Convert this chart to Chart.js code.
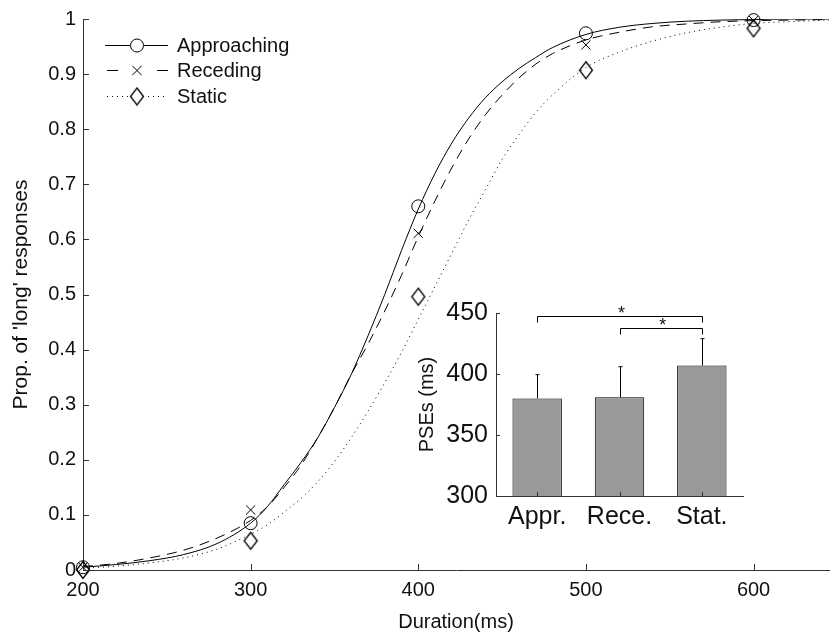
<!DOCTYPE html>
<html>
<head>
<meta charset="utf-8">
<script src="https://cdn.jsdelivr.net/npm/chart.js@4.4.1/dist/chart.umd.min.js"></script>
<style>
  html, body { margin: 0; padding: 0; background: #fff; }
  #wrap { position: relative; width: 830px; height: 634px; }
  #main { position: absolute; left: 0; top: 0; }
  #inset { position: absolute; left: 400px; top: 290px; }
</style>
</head>
<body>
<div id="wrap">
  <canvas id="main" width="830" height="634"></canvas>
  <canvas id="inset" width="350" height="240"></canvas>
</div>
<script>
// observed proportions of 'long' responses
const durations = [200, 300, 400, 500, 600];
const approachingObs = [0.005, 0.085, 0.66, 0.974, 0.998];
const recedingObs = [0.005, 0.109, 0.611, 0.953, 0.997];
const staticObs = [0.0, 0.053, 0.496, 0.907, 0.983];

// fitted curves
const fitX = [200, 220, 240, 260, 280, 300, 310, 320, 330, 340, 350, 360, 370, 380, 390, 400,
              410, 420, 430, 440, 450, 460, 470, 480, 500, 520, 540, 560, 580, 600, 620, 645];
const approachingFit = [0.005, 0.010, 0.017, 0.028, 0.048, 0.085, 0.115, 0.155, 0.195, 0.24, 0.295,
                        0.355, 0.425, 0.5, 0.58, 0.655, 0.72, 0.775, 0.82, 0.857, 0.886, 0.91, 0.93,
                        0.948, 0.972, 0.985, 0.992, 0.996, 0.998, 0.999, 1.0, 1.0];
const recedingFit = [0.006, 0.012, 0.022, 0.036, 0.058, 0.09, 0.115, 0.15, 0.19, 0.24, 0.295,
                     0.355, 0.41, 0.47, 0.535, 0.605, 0.67, 0.73, 0.782, 0.826, 0.862, 0.893, 0.918,
                     0.937, 0.962, 0.976, 0.986, 0.991, 0.995, 0.997, 0.998, 0.999];
const staticFit = [0.003, 0.007, 0.013, 0.022, 0.038, 0.065, 0.082, 0.105, 0.13, 0.16, 0.197,
                   0.24, 0.288, 0.34, 0.395, 0.455, 0.515, 0.575, 0.635, 0.69, 0.745, 0.79, 0.83,
                   0.862, 0.912, 0.94, 0.96, 0.975, 0.985, 0.992, 0.995, 0.998];

// inset: PSEs per condition
const pseLabels = ['Appr.', 'Rece.', 'Stat.'];
const pseValues = [380, 381, 407];
const pseErrors = [19.5, 25, 22];
const sigPairs = [[0, 2, 447.5], [1, 2, 437.5]];

const FONT = '"Liberation Sans", Arial, Helvetica, sans-serif';
const INK = '#111';
const AXIS = '#333';

// diamond marker (taller than wide, like the original)
const diamond = document.createElement('canvas');
diamond.width = 16;
diamond.height = 20;
(function () {
    const c = diamond.getContext('2d');
    c.strokeStyle = '#000';
    c.lineWidth = 1.3;
    c.beginPath();
    c.moveTo(8, 1.5);
    c.lineTo(14.5, 10);
    c.lineTo(8, 18.5);
    c.lineTo(1.5, 10);
    c.closePath();
    c.stroke();
})();

function pairs(xs, ys) {
    return xs.map((x, i) => ({ x: x, y: ys[i] }));
}

function curve(label, ys, dash) {
    return {
        label: label,
        data: pairs(fitX, ys),
        borderColor: '#000',
        borderWidth: 1,
        borderDash: dash,
        pointRadius: 0,
        fill: false,
        cubicInterpolationMode: 'monotone'
    };
}

function markers(ys, style, radius) {
    return {
        data: pairs(durations, ys),
        showLine: false,
        pointStyle: style,
        pointRadius: radius,
        pointBorderColor: '#000',
        pointBackgroundColor: 'rgba(0,0,0,0)',
        pointBorderWidth: 1,
        clip: false
    };
}

const legendItems = [
    { text: 'Approaching', dash: [], style: 'circle', radius: 6.5, y: 45, segs: [[105, 130], [144, 168]] },
    { text: 'Receding', dash: [], style: 'crossRot', radius: 6.5, y: 70, segs: [[107, 118], [157, 168]] },
    { text: 'Static', dash: [1, 4], style: diamond, radius: 1, y: 96, segs: [[107, 129], [148, 168]] }
];

// MATLAB style ticks pointing into the plot
const inwardTicks = {
    id: 'inwardTicks',
    afterDraw(chart) {
        const ctx = chart.ctx;
        const a = chart.chartArea;
        const len = chart.canvas.id === 'main' ? 6 : 4;
        ctx.save();
        ctx.strokeStyle = AXIS;
        ctx.lineWidth = 1;
        ctx.beginPath();
        const xs = chart.scales.x;
        xs.ticks.forEach((t, i) => {
            const px = Math.round(xs.getPixelForTick(i)) + 0.5;
            ctx.moveTo(px, a.bottom);
            ctx.lineTo(px, a.bottom - len);
        });
        const ys = chart.scales.y;
        ys.ticks.forEach((t, i) => {
            const py = Math.round(ys.getPixelForTick(i)) + 0.5;
            ctx.moveTo(a.left, py);
            ctx.lineTo(a.left + len, py);
        });
        ctx.stroke();
        ctx.restore();
    }
};

const legendBox = {
    id: 'legendBox',
    afterDraw(chart) {
        const ctx = chart.ctx;
        ctx.save();
        legendItems.forEach(item => {
            ctx.strokeStyle = '#000';
            ctx.lineWidth = 1;
            ctx.setLineDash(item.dash);
            ctx.beginPath();
            item.segs.forEach(s => {
                ctx.moveTo(s[0], item.y + 0.5);
                ctx.lineTo(s[1], item.y + 0.5);
            });
            ctx.stroke();
            ctx.setLineDash([]);
            ctx.fillStyle = 'rgba(0,0,0,0)';
            Chart.helpers.drawPoint(ctx, { pointStyle: item.style, radius: item.radius, rotation: 0, borderWidth: 1 }, 137, item.y + 0.5);
            ctx.fillStyle = INK;
            ctx.font = '20px ' + FONT;
            ctx.textBaseline = 'middle';
            ctx.textAlign = 'left';
            ctx.fillText(item.text, 177, item.y + 1);
        });
        ctx.restore();
    }
};

new Chart(document.getElementById('main'), {
    type: 'line',
    data: {
        datasets: [
            curve('Approaching', approachingFit, []),
            curve('Receding', recedingFit, [10, 7]),
            curve('Static', staticFit, [1, 4]),
            markers(approachingObs, 'circle', 6.5),
            markers(recedingObs, 'crossRot', 6.5),
            markers(staticObs, diamond, 1)
        ]
    },
    options: {
        responsive: false,
        animation: false,
        devicePixelRatio: 1,
        layout: { autoPadding: false, padding: { top: 18, right: 1, left: 0, bottom: 0 } },
        plugins: { legend: { display: false }, tooltip: { enabled: false } },
        scales: {
            x: {
                type: 'linear',
                min: 200,
                max: 645,
                afterFit: s => { s.height = 64; s.paddingLeft = 0; s.paddingRight = 0; },
                ticks: { stepSize: 100, includeBounds: false, color: INK, padding: 8, maxRotation: 0,
                         font: { family: FONT, size: 20 } },
                grid: { drawOnChartArea: false, drawTicks: false },
                border: { color: AXIS, width: 1 },
                title: { display: true, text: 'Duration(ms)', color: INK, padding: { top: 2, bottom: 0 },
                         font: { family: FONT, size: 20 } }
            },
            y: {
                min: 0,
                max: 1,
                afterFit: s => { s.width = 83; },
                ticks: { stepSize: 0.1, color: INK, padding: 7, font: { family: FONT, size: 20 },
                         callback: v => String(Number(v.toFixed(1))) },
                grid: { drawOnChartArea: false, drawTicks: false },
                border: { color: AXIS, width: 1 },
                title: { display: true, text: "Prop. of 'long' responses", color: INK,
                         padding: { top: 9, bottom: 0 }, font: { family: FONT, size: 21 } }
            }
        }
    },
    plugins: [inwardTicks, legendBox]
});

// error bars and significance brackets on the inset
const insetExtras = {
    id: 'insetExtras',
    afterDatasetsDraw(chart) {
        const ctx = chart.ctx;
        const xs = chart.scales.x;
        const ys = chart.scales.y;
        ctx.save();
        ctx.strokeStyle = '#000';
        ctx.lineWidth = 1;
        ctx.beginPath();
        pseValues.forEach((v, i) => {
            const px = Math.round(xs.getPixelForValue(i)) + 0.5;
            const yTop = ys.getPixelForValue(v + pseErrors[i]);
            ctx.moveTo(px, ys.getPixelForValue(v));
            ctx.lineTo(px, yTop);
            ctx.moveTo(px - 2, yTop);
            ctx.lineTo(px + 2, yTop);
        });
        sigPairs.forEach(p => {
            const x1 = Math.round(xs.getPixelForValue(p[0])) + 0.5;
            const x2 = Math.round(xs.getPixelForValue(p[1])) + 0.5;
            const y = Math.round(ys.getPixelForValue(p[2])) + 0.5;
            ctx.moveTo(x1, y + 6);
            ctx.lineTo(x1, y);
            ctx.lineTo(x2, y);
            ctx.lineTo(x2, y + 6);
        });
        ctx.stroke();
        ctx.fillStyle = INK;
        ctx.font = '18px ' + FONT;
        ctx.textAlign = 'center';
        ctx.textBaseline = 'alphabetic';
        sigPairs.forEach(p => {
            const xm = (xs.getPixelForValue(p[0]) + xs.getPixelForValue(p[1])) / 2;
            ctx.fillText('*', xm + 2, ys.getPixelForValue(p[2]) + 3);
        });
        ctx.restore();
    }
};

new Chart(document.getElementById('inset'), {
    type: 'bar',
    data: {
        labels: pseLabels,
        datasets: [{
            data: pseValues,
            backgroundColor: '#999999',
            borderColor: '#000',
            borderWidth: 1,
            barPercentage: 0.6,
            categoryPercentage: 1
        }]
    },
    options: {
        responsive: false,
        animation: false,
        devicePixelRatio: 1,
        layout: { autoPadding: false, padding: { top: 20, right: 7, left: 0, bottom: 0 } },
        plugins: { legend: { display: false }, tooltip: { enabled: false } },
        scales: {
            x: {
                afterFit: s => { s.height = 34; },
                ticks: { color: INK, padding: 6, font: { family: FONT, size: 25 } },
                grid: { drawOnChartArea: false, drawTicks: false },
                border: { color: AXIS, width: 1 }
            },
            y: {
                min: 300,
                max: 450,
                afterFit: s => { s.width = 96; },
                ticks: { stepSize: 50, color: INK, padding: 8, font: { family: FONT, size: 25 } },
                grid: { drawOnChartArea: false, drawTicks: false },
                border: { color: AXIS, width: 1 },
                title: { display: true, text: 'PSEs (ms)', color: INK, padding: { top: 15, bottom: 0 },
                         font: { family: FONT, size: 20 } }
            }
        }
    },
    plugins: [inwardTicks, insetExtras]
});
</script>
</body>
</html>
